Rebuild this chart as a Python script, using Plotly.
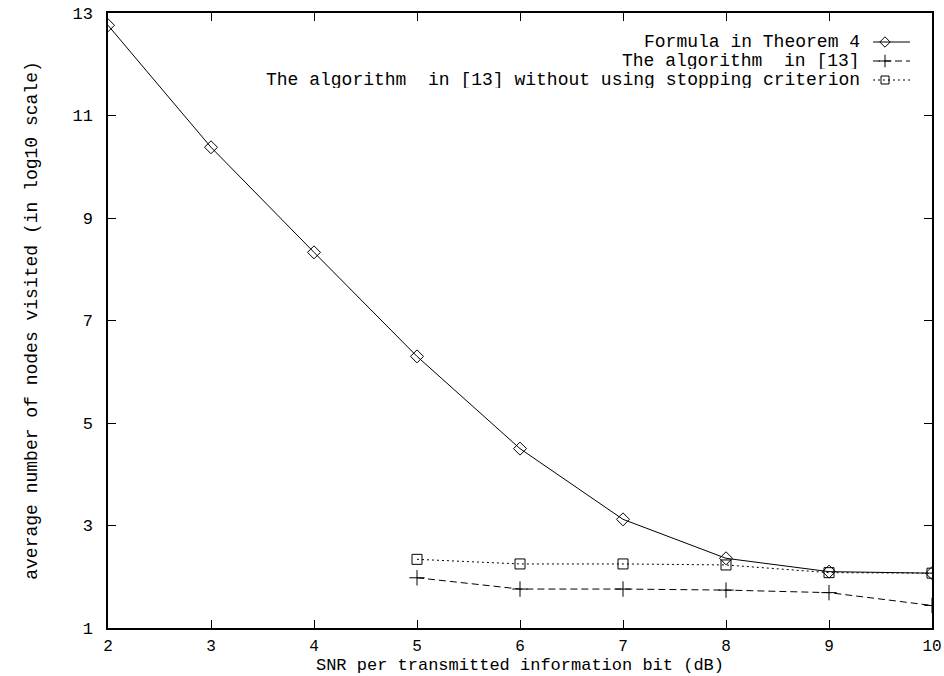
import plotly.graph_objects as go

snr = [2, 3, 4, 5, 6, 7, 8, 9, 10]
formula = [12.76, 10.38, 8.33, 6.30, 4.50, 3.12, 2.36, 2.10, 2.07]
snr_alg = [5, 6, 7, 8, 9, 10]
alg = [1.98, 1.76, 1.76, 1.74, 1.69, 1.44]
alg_nostop = [2.34, 2.25, 2.25, 2.23, 2.08, 2.07]

names = ["Formula in Theorem 4", "The algorithm  in [13]",
         "The algorithm  in [13] without using stopping criterion"]
x_ticks = list(range(2, 11))
y_ticks = [1, 3, 5, 7, 9, 11, 13]

FONT = "Liberation Mono, Courier New, monospace"
FS = 18
TFS = 16
W, H = 944, 676
ML, MR, MT, MB = 108, 12, 13, 48
PW, PH = W - ML - MR, H - MT - MB

styles = [
    dict(dash="solid", symbol="diamond-open", size=10),
    dict(dash="7px,4px", symbol="cross-thin-open", size=11),
    dict(dash="2px,3px", symbol="square-open", size=10),
]

fig = go.Figure()
series = [(snr, formula), (snr_alg, alg), (snr_alg, alg_nostop)]
for (xs, ys), st, nm in zip(series, styles, names):
    fig.add_trace(go.Scatter(
        x=xs, y=ys, mode="lines+markers", name=nm, showlegend=False,
        line=dict(color="black", width=1, dash=st["dash"]),
        marker=dict(symbol=st["symbol"], size=st["size"], color="black",
                    line=dict(color="black", width=1)),
    ))

# legend (text on the left, sample on the right, like gnuplot)
def px2fx(px):
    return (px - ML) / PW

def py2fy(py):
    return 1 - (py - MT) / PH

rows_py = [42, 61, 80]
for nm, st, py in zip(names, styles, rows_py):
    fig.add_annotation(text=nm, xref="paper", yref="paper", height=17,
                       x=px2fx(862), y=py2fy(py), xanchor="right", yanchor="middle",
                       showarrow=False, font=dict(family=FONT, size=FS, color="black"))
    fig.add_trace(go.Scatter(
        x=[px2fx(873), px2fx(910)], y=[py2fy(py)] * 2, xaxis="x2", yaxis="y2",
        mode="lines", showlegend=False, hoverinfo="skip",
        line=dict(color="black", width=1, dash=st["dash"])))
    fig.add_trace(go.Scatter(
        x=[px2fx(885)], y=[py2fy(py)], xaxis="x2", yaxis="y2",
        mode="markers", showlegend=False, hoverinfo="skip",
        marker=dict(symbol=st["symbol"], size=st["size"] - 2, color="black",
                    line=dict(color="black", width=1))))

axis_common = dict(showgrid=False, zeroline=False, showline=True, linecolor="black",
                   linewidth=1.5, mirror="ticks", ticks="inside", ticklen=8,
                   tickcolor="black", automargin=False)

fig.update_layout(
    width=W, height=H, margin=dict(l=ML, r=MR, t=MT, b=MB, autoexpand=False),
    paper_bgcolor="white", plot_bgcolor="white",
    xaxis=dict(range=[2, 10], tickvals=x_ticks, ticktext=[str(v) for v in x_ticks],
               ticklabelstandoff=2,
               tickfont=dict(family=FONT, size=TFS, color="black"),
               title=dict(text="SNR per transmitted information bit (dB)", standoff=0,
                          font=dict(family=FONT, size=17, color="black")),
               **axis_common),
    yaxis=dict(range=[1, 13], tickvals=y_ticks, ticktext=[str(v) for v in y_ticks],
               ticklabelstandoff=10,
               tickfont=dict(family=FONT, size=17, color="black"),
               title=dict(text="average number of nodes visited (in log10 scale)", standoff=30,
                          font=dict(family=FONT, size=FS, color="black")),
               **axis_common),
    xaxis2=dict(range=[0, 1], overlaying="x", visible=False, fixedrange=True),
    yaxis2=dict(range=[0, 1], overlaying="y", visible=False, fixedrange=True),
)

fig.write_html("out.html")
